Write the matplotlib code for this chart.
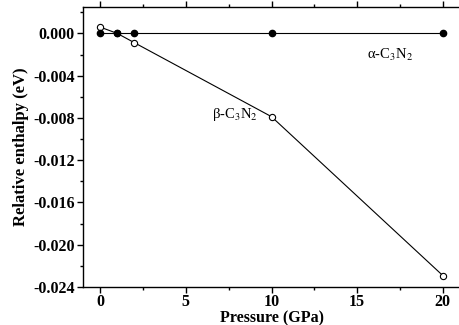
import matplotlib
matplotlib.use('Agg')
import matplotlib.pyplot as plt
from matplotlib.ticker import MultipleLocator, FormatStrFormatter

plt.rcParams['font.family'] = 'Liberation Serif'
plt.rcParams['mathtext.fontset'] = 'stix'

pressure = [0, 1, 2, 10, 20]
alpha_h = [0.0, 0.0, 0.0, 0.0, 0.0]
beta_p = [0, 1, 2, 10, 20]
beta_h = [0.0006, 0.0, -0.00088, -0.00788, -0.02292]

fig = plt.figure(figsize=(4.59, 3.25), dpi=100)
ax = fig.add_axes([83 / 459, 38 / 325, 377 / 459, 280 / 325])

# beta first so the filled alpha points sit on top
ax.plot(beta_p, beta_h, '-o', color='black', lw=0.8, ms=4.5,
        mfc='white', mec='black', mew=0.8)
ax.plot(pressure, alpha_h, '-o', color='black', lw=0.8, ms=4.5,
        mfc='black', mec='black')

ax.text(16.9, -0.00205, 'α-C$_3$N$_2$', fontsize=10.5, ha='center', va='center')
ax.text(7.85, -0.0077, 'β-C$_3$N$_2$', fontsize=10.5, ha='center', va='center')

ax.set_xlim(-1, 21)
ax.set_ylim(-0.024, 0.0025)
ax.xaxis.set_major_locator(MultipleLocator(5))
ax.xaxis.set_minor_locator(MultipleLocator(2.5))
ax.yaxis.set_major_locator(MultipleLocator(0.004))
ax.yaxis.set_minor_locator(MultipleLocator(0.002))
ax.yaxis.set_major_formatter(FormatStrFormatter('%.3f'))

ax.tick_params(which='both', direction='out', top=True, right=False, width=1)
ax.tick_params(which='major', length=4, pad=2)
ax.tick_params(axis='x', which='major', pad=1)
ax.tick_params(which='minor', length=2.5)
for lab in ax.get_xticklabels() + ax.get_yticklabels():
    lab.set_fontweight('bold')
    lab.set_fontsize(11.5)
for s in ax.spines.values():
    s.set_linewidth(1)
ax.spines['right'].set_visible(False)

ax.set_xlabel('Pressure (GPa)', fontweight='bold', fontsize=11.5, labelpad=0)
ax.set_ylabel('Relative enthalpy (eV)', fontweight='bold', fontsize=12, labelpad=3)

fig.savefig('out.png', dpi=100)
